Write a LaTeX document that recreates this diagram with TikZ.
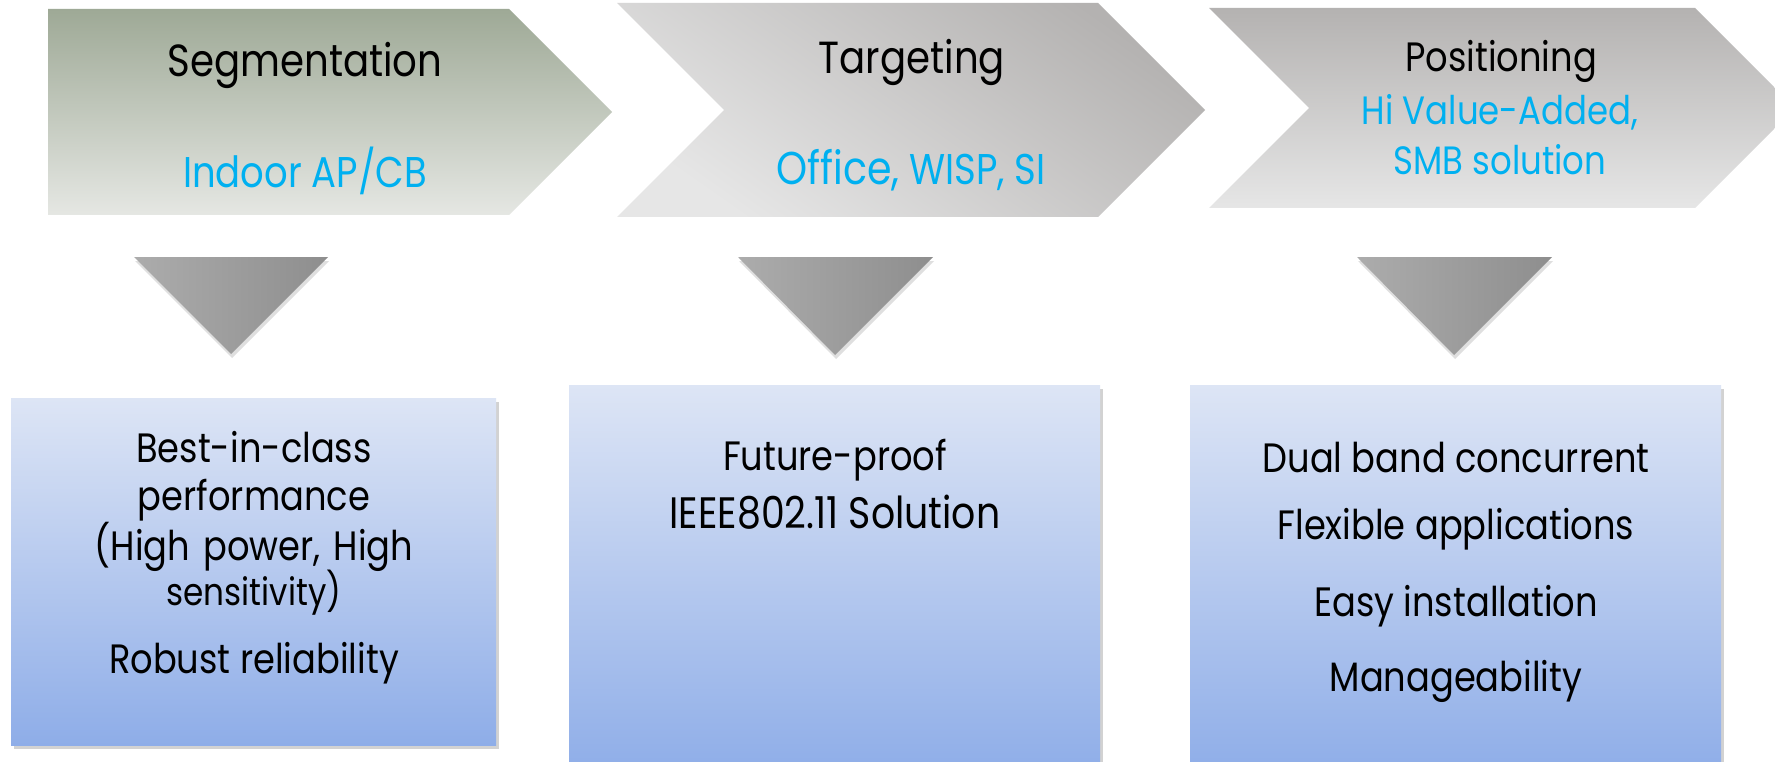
\documentclass[tikz,border=0pt]{standalone}
\usepackage{fontspec}
\setmainfont{Poppins}[FakeStretch=0.86]
\usetikzlibrary{positioning,shadows}
\definecolor{segtop}{RGB}{158,169,150}
\definecolor{segbot}{RGB}{229,231,227}
\definecolor{greytop}{RGB}{180,178,177}
\definecolor{greybot}{RGB}{230,230,230}
\definecolor{tridark}{RGB}{142,142,142}
\definecolor{trilight}{RGB}{172,172,172}
\definecolor{boxtop}{RGB}{221,229,245}
\definecolor{boxbot}{RGB}{142,173,232}
\definecolor{keyblue}{RGB}{0,176,240}

\begin{document}
\begin{tikzpicture}[x=1pt, y=-1pt,
    chevron/.style={draw=none},
    pointer/.style={left color=trilight, right color=tridark, drop shadow={shadow xshift=1pt, shadow yshift=-4pt, opacity=0.25}},
    panel/.style={rectangle, inner sep=0pt, anchor=north west, top color=boxtop, bottom color=boxbot, drop shadow={shadow xshift=3pt, shadow yshift=-4pt, opacity=0.35}},
    head/.style={anchor=base, font=\fontsize{45}{54}\selectfont},
    sub/.style={anchor=base, text=keyblue, font=\fontsize{43}{50}\selectfont},
    item/.style={anchor=base, font=\fontsize{41}{48}\selectfont}
]
\path[use as bounding box, fill=white] (0,0) rectangle (1775,762);

% Chevrons
\path[chevron, top color=segtop, bottom color=segbot] (48,9) -- (509,9) -- (612,112) -- (509,215) -- (48,215) -- cycle;
\path[chevron, top color=greytop, bottom color=greybot, shading angle=-35] (617,3) -- (1098,3) -- (1205,110) -- (1098,217) -- (617,217) -- (724,110) -- cycle;
\path[chevron, top color=greytop, bottom color=greybot] (1209,8) -- (1695,8) -- (1795,108) -- (1695,208) -- (1209,208) -- (1309,108) -- cycle;

\node[head] (seg) at (305,77) {Segmentation};
\node[sub] (segsub) at (305,188) {Indoor AP/CB};
\node[head] (tgt) at (912,74) {Targeting};
\node[sub] (tgtsub) at (911,185) {{\fontsize{46}{50}\selectfont Office,} WISP, SI};
\node[head, font=\fontsize{41}{48}\selectfont] (pos) at (1501,72) {Positioning};
\node[sub, font=\fontsize{39.5}{46}\selectfont] (possub) at (1500,125) {Hi Value-Added,};
\node[sub, font=\fontsize{39.5}{46}\selectfont] (possubb) at (1500,175) {SMB solution};

% Down pointers
\path[pointer] (134,257) -- (328,257) -- (231,354) -- cycle;
\path[pointer] (738,257) -- (933,257) -- (835,355) -- cycle;
\path[pointer] (1357,257) -- (1552,257) -- (1454,355) -- cycle;

% Panels
\node[panel, minimum width=485, minimum height=347] (perfbox) at (11,398) {};
\node[panel, minimum width=531, minimum height=390] (futbox) at (569,385) {};
\node[panel, minimum width=531, minimum height=390] (featbox) at (1190,385) {};

\node[item] (best) at (254,462) {Best-in-class};
\node[item] (perf) at (254,510) {performance};
\node[item, font=\fontsize{41}{46}\selectfont] (high) at (254,560) {\spaceskip=0.32em\relax (High power, High};
\node[item, font=\fontsize{38}{46}\selectfont] (sens) at (254,605) {sensitivity)};
\node[item] (robust) at (254,673) {Robust reliability};

\node[item] (future) at (835,470) {Future-proof};
\node[item, font=\fontsize{44}{50}\selectfont] (ieee) at (835,528) {IEEE802.11 Solution};

\node[item] (dual) at (1456,472) {Dual band concurrent};
\node[item] (flex) at (1456,539) {Flexible applications};
\node[item] (easy) at (1456,616) {Easy installation};
\node[item] (manage) at (1456,691) {Manageability};
\end{tikzpicture}
\end{document}
